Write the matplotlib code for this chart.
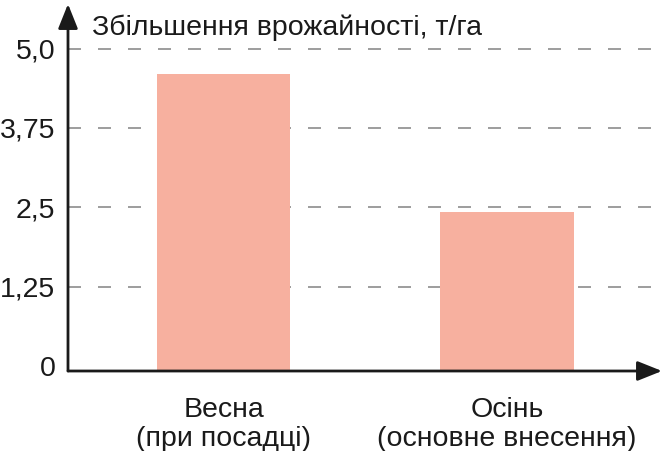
import matplotlib
matplotlib.use("Agg")
import matplotlib.pyplot as plt

categories = ["Весна\n(при посадці)", "Осінь\n(основне внесення)"]
values = [4.6, 2.43]
yticks = [0, 1.25, 2.5, 3.75, 5.0]
ytick_labels = ["0", "1,25", "2,5", "3,75", "5,0"]
ylabel = "Збільшення врожайності, т/га"

plt.rcParams['font.family'] = ['Liberation Sans', 'DejaVu Sans']

W, H = 666, 451
px_per_unit = 63.5
y_floor = -5 / px_per_unit  # axis line sits slightly below the zero tick

fig = plt.figure(figsize=(W / 100, H / 100), dpi=100)
# axes: left x=68, right x=666, bottom y=371, top y=4 (pixels)
ax = fig.add_axes([68 / W, (H - 371) / H, (666 - 68) / W, (371 - 4) / H])

x = list(range(len(categories)))
ax.bar(x, [v - y_floor for v in values], bottom=y_floor, width=0.47,
       color="#F7B09F", zorder=2)

ax.set_xlim(-0.549, 1.561)
ax.set_ylim(y_floor, y_floor + 367 / px_per_unit)

txtcol = "#1a1a1a"
ax.set_yticks(yticks)
ax.set_yticklabels(ytick_labels, fontsize=20.5, color=txtcol)
ax.set_xticks(x)
ax.set_xticklabels(categories, fontsize=20.5, color=txtcol, linespacing=1.12)
ax.tick_params(axis='both', length=0)
ax.tick_params(axis='y', pad=9)
ax.tick_params(axis='x', pad=19)

for t in yticks[1:]:
    ax.axhline(t, color="#8c8c8c", lw=1.2, dashes=(7.8, 10.2), zorder=1)

for s in ax.spines.values():
    s.set_visible(False)

# arrows for axes
astyle = dict(arrowstyle="-|>,head_length=1.0,head_width=0.4", mutation_scale=15,
              color=txtcol, lw=2, shrinkA=0, shrinkB=0)
ax.annotate("", xy=(0, 1.0), xytext=(0, 0), xycoords='axes fraction', arrowprops=astyle)
ax.annotate("", xy=((662 - 68) / (666 - 68), 0), xytext=(0, 0), xycoords='axes fraction',
            arrowprops=astyle)

fig.text(92 / W, 1 - 28 / H, ylabel, fontsize=20.5, color=txtcol,
         ha='left', va='center')

fig.savefig("out.png", dpi=100)
